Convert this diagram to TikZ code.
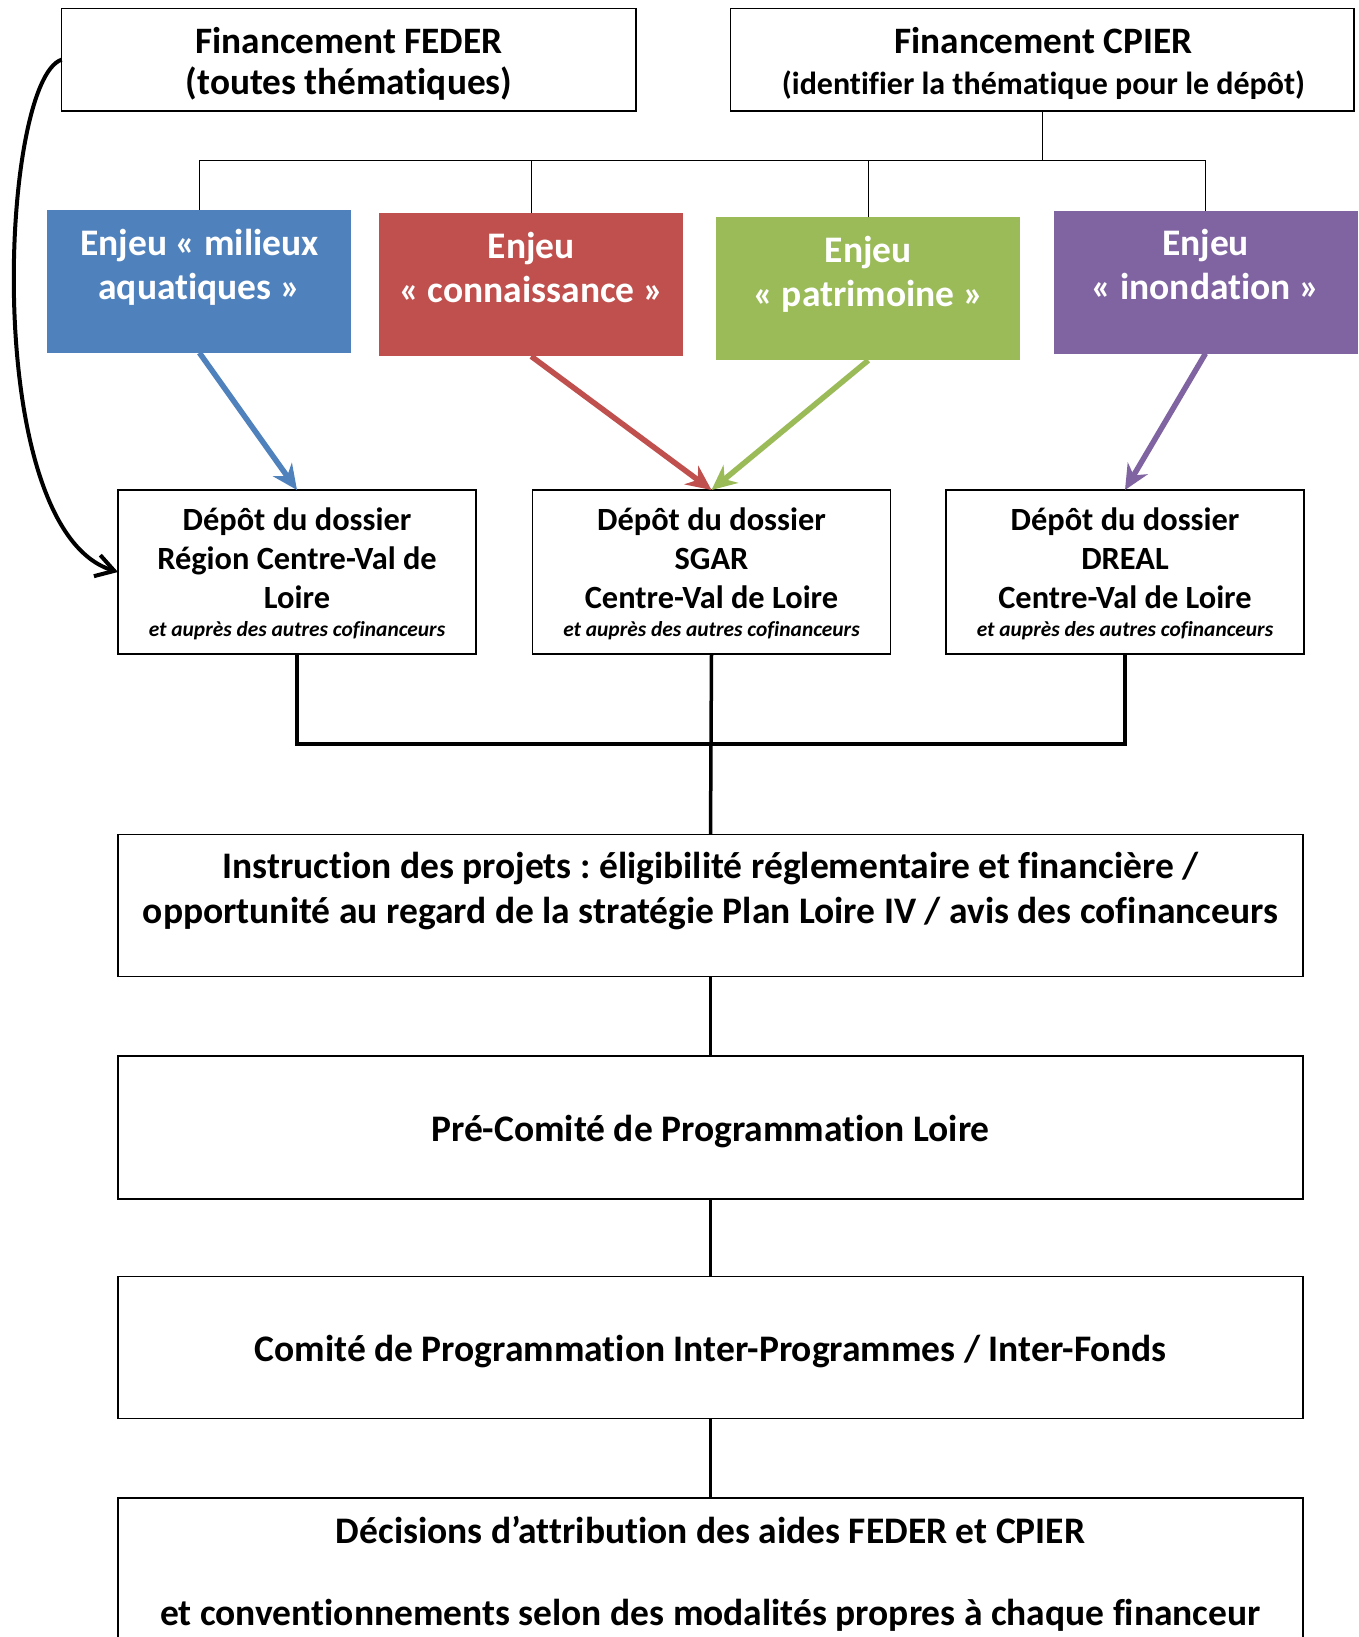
\documentclass[tikz,border=0pt]{standalone}
\usepackage{fontspec}
\setmainfont{Carlito}[Ligatures=NoCommon]
\frenchspacing
\usetikzlibrary{arrows.meta}
\definecolor{cblue}{HTML}{4F81BD}
\definecolor{cred}{HTML}{C0504D}
\definecolor{cgreen}{HTML}{9BBB59}
\definecolor{cpurple}{HTML}{8064A2}
\newcommand{\mlines}[1]{\begin{tabular}[t]{@{}c@{}}#1\end{tabular}}
\tikzset{
  frame/.style={draw=black, line width=1.3bp, fill=white, inner sep=0pt, outer sep=0pt},
  enjeu/.style={draw=none, fill=#1, inner sep=0pt, outer sep=0pt, minimum width=304bp, minimum height=143bp},
  depot/.style={frame, minimum width=358bp, minimum height=164bp},
  wide/.style={frame, minimum width=1185bp, minimum height=142bp},
  txt/.style={inner sep=0pt, outer sep=0pt, anchor=base, align=center},
  big/.style={txt, font=\fontsize{37.3bp}{41bp}\selectfont\bfseries},
  sub/.style={txt, font=\fontsize{32bp}{38bp}\selectfont\bfseries},
  etxt/.style={txt, text=white, font=\fontsize{37.5bp}{44bp}\selectfont\bfseries},
  dtxt/.style={txt, font=\fontsize{32.4bp}{39bp}\selectfont\bfseries},
  itxt/.style={txt, font=\fontsize{21.4bp}{25bp}\selectfont\bfseries\itshape},
  wtxt/.style={txt, font=\fontsize{37.5bp}{45.3bp}\selectfont\bfseries},
  thin/.style={draw=black, line width=1.4bp},
  heavy/.style={draw=black, line width=3.5bp},
  link/.style={draw=black, line width=2.8bp},
  carrow/.style={draw=#1, line width=5.5bp, -{Stealth[length=25bp,width=23bp,inset=8bp]}},
}
\begin{document}
\begin{tikzpicture}[x=1bp,y=-1bp]
\useasboundingbox (0,0) rectangle (1359,1637);
\clip (0,0) rectangle (1359,1637);
\fill[white] (0,0) rectangle (1359,1637);

% top boxes
\node[frame, minimum width=574.4bp, minimum height=102.7bp] (feder) at (348.8,59.7) {};
\begin{scope}
\clip (60,8) rectangle (640,100.5);
\node[big] (federt) at (349,53.3) {\mlines{Financement FEDER\\(toutes thématiques)}};
\end{scope}
\node[frame, minimum width=623.5bp, minimum height=102.7bp] (cpier) at (1042.3,59.7) {};
\node[big] (cpiert1) at (1043.5,53.3) {Financement CPIER};
\node[sub] (cpiert2) at (1043.5,94.3) {(identifier la thématique pour le dépôt)};

% enjeu boxes
\node[enjeu=cblue] (blue) at (199.4,281.3) {};
\node[enjeu=cred] (red) at (531.2,284.8) {};
\node[enjeu=cgreen] (green) at (868.3,288.8) {};
\node[enjeu=cpurple] (purple) at (1205.5,282) {};
\node[etxt] (bluet) at (199.4,255) {\mlines{Enjeu « milieux\\aquatiques »}};
\node[etxt] (redt) at (531.2,258.3) {\mlines{Enjeu\\« connaissance »}};
\node[etxt] (greent) at (868.3,262.3) {\mlines{Enjeu\\« patrimoine »}};
\node[etxt] (purplet) at (1205.5,255.5) {\mlines{Enjeu\\« inondation »}};

% CPIER tree
\coordinate (bar) at (0,160.7);
\draw[thin] (cpier.south) -- (cpier.south |- bar);
\draw[thin] (blue.north) -- (blue.north |- bar) -- (purple.north |- bar) -- (purple.north);
\draw[thin] (red.north) -- (red.north |- bar);
\draw[thin] (green.north) -- (green.north |- bar);

% depot boxes
\node[depot] (dep1) at (297,572) {};
\node[depot] (dep2) at (711.5,572) {};
\node[depot] (dep3) at (1125,572) {};
\node[dtxt] (dep1t) at (297,530) {\mlines{Dépôt du dossier\\Région Centre-Val de\\Loire}};
\node[dtxt] (dep2t) at (711.5,530) {\mlines{Dépôt du dossier\\SGAR\\Centre-Val de Loire}};
\node[dtxt] (dep3t) at (1125,530) {\mlines{Dépôt du dossier\\DREAL\\Centre-Val de Loire}};
\node[itxt] (dep1i) at (297,636.7) {et auprès des autres cofinanceurs};
\node[itxt] (dep2i) at (711.5,636.7) {et auprès des autres cofinanceurs};
\node[itxt] (dep3i) at (1125,636.7) {et auprès des autres cofinanceurs};

% coloured arrows
\draw[carrow=cblue] (blue.south) -- (dep1.north);
\draw[carrow=cred] (red.south) -- (dep2.north);
\draw[carrow=cgreen] (green.south) -- (dep2.north);
\draw[carrow=cpurple] (purple.south) -- (dep3.north);

% FEDER curved arrow
\draw[line width=4bp, -{Straight Barb[length=18bp,width=22bp]}] (feder.west) .. controls (0,80) and (-20,530) .. (dep1.west);

% lower boxes
\node[wide] (instr) at (710.5,905.3) {};
\node[wtxt] (instrt) at (710.5,878) {\mlines{Instruction des projets : éligibilité réglementaire et financière /\\opportunité au regard de la stratégie Plan Loire IV / avis des cofinanceurs}};
\node[wide, minimum height=143bp] (pre) at (710.5,1127.5) {};
\node[wtxt] (pret) at (710.5,1141.7) {Pré-Comité de Programmation Loire};
\node[wide] (com) at (710.5,1347.7) {};
\node[wtxt] (comt) at (710.5,1361.7) {Comité de Programmation Inter-Programmes / Inter-Fonds};
\node[wide, minimum height=220bp] (dec) at (710.5,1608) {};
\node[wtxt] (dect1) at (710.5,1543.3) {Décisions d’attribution des aides FEDER et CPIER};
\node[wtxt] (dect2) at (710.5,1625) {et conventionnements selon des modalités propres à chaque financeur};

% lower connectors
\coordinate (j) at (711.5,744);
\draw[heavy] (dep1.south) |- (j) -| (dep3.south);
\draw[heavy] (dep2.south) -- (instr.north);
\draw[link] (instr.south) -- (pre.north);
\draw[link] (pre.south) -- (com.north);
\draw[link] (com.south) -- (dec.north);
\end{tikzpicture}
\end{document}
